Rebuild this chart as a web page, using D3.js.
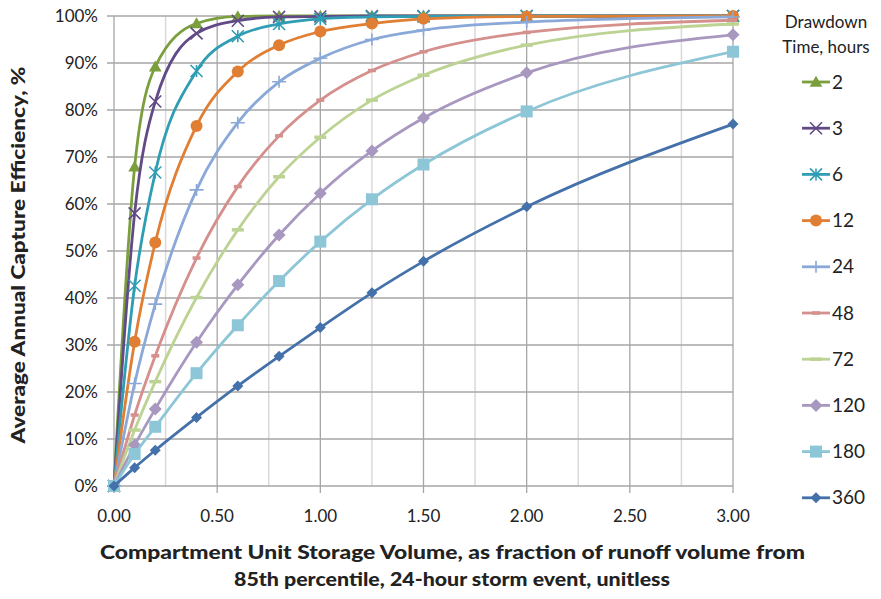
<!DOCTYPE html>
<html>
<head>
<meta charset="utf-8">
<script src="https://cdn.jsdelivr.net/npm/d3@7"></script>
<style>
  body { margin: 0; background: #fff; }
  svg { font-family: Lato, "Open Sans", sans-serif; }
</style>
</head>
<body>
<div id="chart"></div>
<script>
// storage volume (fraction of runoff volume)
const volumes = [0, 0.1, 0.2, 0.4, 0.6, 0.8, 1.0, 1.25, 1.5, 2.0, 3.0];
// drawdown times, hours
const drawdowns = ['2', '3', '6', '12', '24', '48', '72', '120', '180', '360'];
// capture efficiency, % (one array per drawdown time)
const eff2   = [0, 67.9, 89.2, 98.4, 99.9, 100, 100, 100, 100, 100, 100];
const eff3   = [0, 58.0, 81.8, 96.3, 99.0, 99.8, 99.9, 100, 100, 100, 100];
const eff6   = [0, 42.6, 66.7, 88.3, 95.7, 98.3, 99.4, 99.8, 99.9, 100, 100];
const eff12  = [0, 30.7, 51.8, 76.6, 88.2, 93.8, 96.7, 98.4, 99.4, 99.9, 100];
const eff24  = [0, 21.8, 38.7, 63.0, 77.3, 86.0, 91.0, 95.0, 97.0, 98.7, 99.8];
const eff48  = [0, 15.1, 27.7, 48.5, 63.7, 74.5, 82.1, 88.4, 92.4, 96.5, 99.1];
const eff72  = [0, 11.9, 22.2, 40.1, 54.5, 65.8, 74.2, 82.1, 87.4, 93.8, 98.3];
const eff120 = [0, 8.7, 16.4, 30.6, 42.8, 53.4, 62.3, 71.3, 78.3, 87.9, 96.0];
const eff180 = [0, 6.8, 12.6, 24.0, 34.2, 43.6, 52.0, 61.0, 68.4, 79.7, 92.4];
const eff360 = [0, 3.9, 7.6, 14.6, 21.3, 27.6, 33.7, 41.1, 47.8, 59.4, 77.0];
const xTicks = [0, 0.5, 1.0, 1.5, 2.0, 2.5, 3.0];
const yTicks = [0, 10, 20, 30, 40, 50, 60, 70, 80, 90, 100];

const allSeries = [eff2, eff3, eff6, eff12, eff24, eff48, eff72, eff120, eff180, eff360];
const colors = ['#7a9f3c', '#614a86', '#2f9db3', '#e07f34', '#8aa8d8',
                '#d58f8c', '#bcd394', '#a898c0', '#8dc6d6', '#4471a9'];
const markers = ['triangle', 'x', 'asterisk', 'circle', 'plus',
                 'dash', 'longdash', 'diamond', 'square', 'smalldiamond'];

const width = 881, height = 599;
const margin = { top: 16, right: 148, bottom: 113, left: 114 };

const svg = d3.select('#chart').append('svg')
  .attr('width', width).attr('height', height);

const x = d3.scaleLinear().domain([0, 3]).range([margin.left, width - margin.right]);
const y = d3.scaleLinear().domain([0, 100]).range([height - margin.bottom, margin.top]);

/* ---
 * Gridlines: minor verticals every 0.25, major every 0.5, horizontals every 10%.
 */
const grid = svg.append('g');
d3.range(0.25, 3, 0.5).forEach(v => {
  grid.append('line')
    .attr('x1', x(v)).attr('x2', x(v))
    .attr('y1', y(0)).attr('y2', y(100))
    .attr('stroke', '#d9d9d9').attr('stroke-width', 1.5);
});
xTicks.forEach(v => {
  grid.append('line')
    .attr('x1', x(v)).attr('x2', x(v))
    .attr('y1', y(0) + 7).attr('y2', y(100))
    .attr('stroke', '#a6a6a6').attr('stroke-width', 1.3);
});
yTicks.forEach(v => {
  grid.append('line')
    .attr('x1', x(0) - 7).attr('x2', x(3))
    .attr('y1', y(v)).attr('y2', y(v))
    .attr('stroke', '#a6a6a6').attr('stroke-width', 1.3);
});

/* ---
 * Tick labels
 */
svg.append('g').selectAll('text').data(yTicks).enter().append('text')
  .attr('x', x(0) - 16).attr('y', d => y(d)).attr('dy', '0.35em')
  .attr('text-anchor', 'end').attr('font-size', 17).attr('fill', '#222')
  .text(d => d + '%');

svg.append('g').selectAll('text').data(xTicks).enter().append('text')
  .attr('x', d => x(d)).attr('y', y(0) + 36)
  .attr('text-anchor', 'middle').attr('font-size', 17).attr('fill', '#222')
  .text(d => d.toFixed(2));

/* ---
 * Axis titles
 */
svg.append('text')
  .attr('transform', 'translate(25,' + (y(50) + 4) + ') rotate(-90)')
  .attr('text-anchor', 'middle').attr('font-size', 18).attr('font-weight', 900)
  .attr('fill', '#222')
  .attr('textLength', 377).attr('lengthAdjust', 'spacingAndGlyphs')
  .text('Average Annual Capture Efficiency, %');

const xTitle = svg.append('g')
  .attr('font-size', 19).attr('font-weight', 900).attr('fill', '#222')
  .style('white-space', 'pre');
xTitle.append('text').attr('x', 100).attr('y', 559)
  .attr('textLength', 705).attr('lengthAdjust', 'spacingAndGlyphs')
  .text('Compartment Unit Storage Volume,  as fraction of runoff volume from');
xTitle.append('text').attr('x', 234).attr('y', 586)
  .attr('textLength', 436).attr('lengthAdjust', 'spacingAndGlyphs')
  .text('85th percentile, 24-hour storm event, unitless');

/* ---
 * Helper: draws one marker shape at (cx, cy).
 */
function drawMarker(g, kind, cx, cy, color) {
  const s = 6;
  switch (kind) {
    case 'triangle':
      g.append('path').attr('d', d3.symbol(d3.symbolTriangle, 70)())
        .attr('transform', `translate(${cx},${cy + 1})`).attr('fill', color);
      break;
    case 'x':
      g.append('path').attr('d', `M${cx - s},${cy - s}L${cx + s},${cy + s}M${cx - s},${cy + s}L${cx + s},${cy - s}`)
        .attr('stroke', color).attr('stroke-width', 1.6);
      break;
    case 'asterisk':
      g.append('path').attr('d', `M${cx - s},${cy - s}L${cx + s},${cy + s}M${cx - s},${cy + s}L${cx + s},${cy - s}M${cx},${cy - s}L${cx},${cy + s}`)
        .attr('stroke', color).attr('stroke-width', 1.6);
      break;
    case 'circle':
      g.append('circle').attr('cx', cx).attr('cy', cy).attr('r', 6).attr('fill', color);
      break;
    case 'plus':
      g.append('path').attr('d', `M${cx - s - 1},${cy}L${cx + s + 1},${cy}M${cx},${cy - s}L${cx},${cy + s}`)
        .attr('stroke', color).attr('stroke-width', 1.6);
      break;
    case 'dash':
      g.append('path').attr('d', `M${cx - 4},${cy}L${cx + 4},${cy}`)
        .attr('stroke', color).attr('stroke-width', 3.5);
      break;
    case 'longdash':
      g.append('path').attr('d', `M${cx - 6},${cy}L${cx + 6},${cy}`)
        .attr('stroke', color).attr('stroke-width', 3.5);
      break;
    case 'diamond':
      g.append('path').attr('d', `M${cx},${cy - 6.5}L${cx + 6.5},${cy}L${cx},${cy + 6.5}L${cx - 6.5},${cy}Z`)
        .attr('fill', color);
      break;
    case 'square':
      g.append('rect').attr('x', cx - 6).attr('y', cy - 6).attr('width', 12).attr('height', 12)
        .attr('fill', color);
      break;
    case 'smalldiamond':
      g.append('path').attr('d', `M${cx},${cy - 5.5}L${cx + 5.5},${cy}L${cx},${cy + 5.5}L${cx - 5.5},${cy}Z`)
        .attr('fill', color);
      break;
  }
}

/* ---
 * Series lines and markers
 */
const line = d3.line()
  .x((d, i) => x(volumes[i]))
  .y(d => y(d))
  .curve(d3.curveMonotoneX);

const plot = svg.append('g');
allSeries.forEach((vals, k) => {
  const g = plot.append('g');
  g.append('path').attr('d', line(vals))
    .attr('fill', 'none').attr('stroke', colors[k]).attr('stroke-width', 2.8);
  vals.forEach((v, i) => drawMarker(g, markers[k], x(volumes[i]), y(v), colors[k]));
});

/* ---
 * Legend
 */
const legend = svg.append('g').attr('fill', '#222');
legend.append('text').attr('x', 826).attr('y', 28).attr('text-anchor', 'middle')
  .attr('font-size', 17).text('Drawdown');
legend.append('text').attr('x', 826).attr('y', 53).attr('text-anchor', 'middle')
  .attr('font-size', 17).text('Time, hours');

drawdowns.forEach((name, k) => {
  const ly = 82 + k * 46.2;
  const g = legend.append('g');
  g.append('line').attr('x1', 802).attr('x2', 830).attr('y1', ly).attr('y2', ly)
    .attr('stroke', colors[k]).attr('stroke-width', 2.8);
  drawMarker(g, markers[k], 816, ly, colors[k]);
  g.append('text').attr('x', 832).attr('y', ly).attr('dy', '0.35em')
    .attr('font-size', 19).text(name);
});
</script>
</body>
</html>
